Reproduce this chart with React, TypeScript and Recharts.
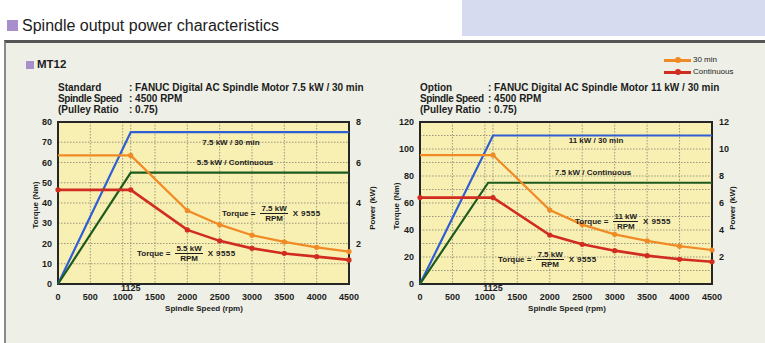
import type { CSSProperties, ReactNode } from 'react'
import {
  CartesianGrid,
  Line,
  LineChart,
  ReferenceArea,
  ReferenceLine,
  XAxis,
  YAxis,
} from 'recharts'

// shared x positions (rpm) of the torque curves
const RPM = [0, 1125, 2000, 2500, 3000, 3500, 4000, 4500]
const RPM_TICKS = [0, 500, 1000, 1500, 2000, 2500, 3000, 3500, 4000, 4500]
const RPM_GRID = [500, 1000, 1125, 1500, 2000, 2500, 3000, 3500, 4000]

// Standard motor (7.5 kW / 30 min)
const STD_TORQUE_30MIN = [63.5, 63.5, 36.3, 29.3, 24.1, 20.8, 18.1, 16]
const STD_TORQUE_CONT = [46.5, 46.5, 26.7, 21.3, 17.6, 15.1, 13.5, 11.9]
const STD_POWER_RPM_30MIN = [0, 1125, 4500]
const STD_POWER_30MIN = [0, 7.5, 7.5]
const STD_POWER_RPM_CONT = [0, 1125, 4500]
const STD_POWER_CONT = [0, 5.5, 5.5]
const STD_TORQUE_TICKS = [0, 10, 20, 30, 40, 50, 60, 70, 80]
const STD_TORQUE_GRID = [10, 20, 30, 40, 50, 60, 70]
const STD_POWER_TICKS = [2, 4, 6, 8]

// Option motor (11 kW / 30 min)
const OPT_TORQUE_30MIN = [95.5, 95.5, 54.8, 44, 36.8, 32, 28, 25.2]
const OPT_TORQUE_CONT = [64, 64, 36.3, 29.4, 24.7, 21, 18.3, 16.5]
const OPT_POWER_RPM_30MIN = [0, 1125, 4500]
const OPT_POWER_30MIN = [0, 11, 11]
const OPT_POWER_RPM_CONT = [0, 1050, 4500]
const OPT_POWER_CONT = [0, 7.5, 7.5]
const OPT_TORQUE_TICKS = [0, 20, 40, 60, 80, 100, 120]
const OPT_TORQUE_GRID = [10, 20, 30, 40, 50, 60, 70, 80, 90, 100, 110]
const OPT_POWER_TICKS = [2, 4, 6, 8, 10, 12]

const ORANGE = '#f08a26'
const RED = '#d02c20'
const BLUE = '#2f5fd2'
const GREEN = '#1d5a1e'
const PURPLE = '#a88fcb'
const INK = '#1c1c1c'
const GRID = '#9c977e'

const SANS = '"Liberation Sans", Arial, sans-serif'
const TICK = {
  fontSize: 9,
  fill: INK,
  fontFamily: '"Liberation Sans Narrow", "Liberation Sans", sans-serif',
  fontWeight: 700,
}

const zip = (xs: number[], ys: number[]) => xs.map((rpm, i) => ({ rpm, v: ys[i] }))

function abs(left: number, top: number, extra: CSSProperties = {}): CSSProperties {
  return { position: 'absolute', left, top, ...extra }
}

// dot renderer; skipFirst hides the marker at 0 rpm (orange curve)
function dots(color: string, skipFirst: boolean) {
  return (p: any) =>
    skipFirst && p.index === 0 ? (
      <g key={`d${p.index}`} />
    ) : (
      <circle key={`d${p.index}`} cx={p.cx} cy={p.cy} r={2.6} fill={color} />
    )
}

function Txt({
  x,
  y,
  children,
  size = 8,
  weight = 700,
  center = false,
  spacing,
}: {
  x: number
  y: number
  children: ReactNode
  size?: number
  weight?: number
  center?: boolean
  spacing?: number
}) {
  return (
    <div
      style={abs(x, y - size * 0.6, {
        fontSize: size,
        fontWeight: weight,
        fontFamily: SANS,
        color: INK,
        lineHeight: `${size * 1.2}px`,
        whiteSpace: 'nowrap',
        letterSpacing: spacing,
        transform: center ? 'translateX(-50%)' : undefined,
      })}
    >
      {children}
    </div>
  )
}

function VText({ x, y, children }: { x: number; y: number; children: ReactNode }) {
  return (
    <div
      style={abs(x, y, {
        fontSize: 8,
        fontWeight: 700,
        fontFamily: SANS,
        color: INK,
        whiteSpace: 'nowrap',
        lineHeight: '10px',
        transform: 'translate(-50%, -50%) rotate(-90deg)',
      })}
    >
      {children}
    </div>
  )
}

function Formula({ x, y, kw }: { x: number; y: number; kw: string }) {
  return (
    <div
      style={abs(x, y - 10, {
        height: 20,
        display: 'flex',
        alignItems: 'center',
        gap: 5,
        fontSize: 8,
        fontWeight: 700,
        fontFamily: SANS,
        color: INK,
        whiteSpace: 'nowrap',
      })}
    >
      <span>Torque =</span>
      <span style={{ display: 'inline-flex', flexDirection: 'column', alignItems: 'center', lineHeight: '9px' }}>
        <span style={{ borderBottom: `1px solid ${INK}`, padding: '0 1px' }}>{kw}</span>
        <span>RPM</span>
      </span>
      <span style={{ letterSpacing: 0.4 }}>X 9555</span>
    </div>
  )
}

function PowerChart({
  left,
  width,
  axisLeft,
  axisRight,
  tMax,
  pMax,
  tTicks,
  tGrid,
  pTicks,
  torque30,
  torqueCont,
  power30,
  powerCont,
}: {
  left: number
  width: number
  axisLeft: number
  axisRight: number
  tMax: number
  pMax: number
  tTicks: number[]
  tGrid: number[]
  pTicks: number[]
  torque30: number[]
  torqueCont: number[]
  power30: { rpm: number; v: number }[]
  powerCont: { rpm: number; v: number }[]
}) {
  return (
    <div style={abs(left, 110)}>
      <LineChart width={width} height={230} margin={{ top: 12, right: 0, bottom: 0, left: 0 }}>
        <CartesianGrid
          yAxisId="t"
          fill="#f8f0b2"
          fillOpacity={1}
          stroke={GRID}
          strokeWidth={1}
          strokeDasharray="1.5 1.5"
          horizontalValues={tGrid}
          verticalValues={RPM_GRID}
        />
        <XAxis
          dataKey="rpm"
          type="number"
          domain={[0, 4500]}
          ticks={RPM_TICKS}
          interval={0}
          axisLine={false}
          tickLine={false}
          tickSize={0}
          tickMargin={10}
          height={56}
          tick={TICK}
        />
        <YAxis
          yAxisId="t"
          domain={[0, tMax]}
          ticks={tTicks}
          interval={0}
          width={axisLeft}
          axisLine={false}
          tickLine={false}
          tickSize={0}
          tickMargin={6}
          tick={TICK}
        />
        <YAxis
          yAxisId="p"
          orientation="right"
          domain={[0, pMax]}
          ticks={pTicks}
          interval={0}
          width={axisRight}
          axisLine={false}
          tickLine={false}
          tickSize={0}
          tickMargin={7}
          tick={TICK}
        />
        <ReferenceLine
          yAxisId="t"
          x={1125}
          stroke="none"
          label={{ value: '1125', position: 'bottom', offset: 1, style: TICK }}
        />
        <Line
          yAxisId="p"
          data={power30}
          dataKey="v"
          stroke={BLUE}
          strokeWidth={2.2}
          dot={false}
          isAnimationActive={false}
        />
        <Line
          yAxisId="p"
          data={powerCont}
          dataKey="v"
          stroke={GREEN}
          strokeWidth={2.2}
          dot={false}
          isAnimationActive={false}
        />
        <Line
          yAxisId="t"
          data={zip(RPM, torque30)}
          dataKey="v"
          stroke={ORANGE}
          strokeWidth={2.2}
          dot={dots(ORANGE, true)}
          isAnimationActive={false}
        />
        <Line
          yAxisId="t"
          data={zip(RPM, torqueCont)}
          dataKey="v"
          stroke={RED}
          strokeWidth={2.6}
          dot={dots(RED, false)}
          isAnimationActive={false}
        />
        <ReferenceArea
          yAxisId="t"
          x1={0}
          x2={4500}
          y1={0}
          y2={tMax}
          fill="none"
          stroke="#262626"
          strokeWidth={2}
          ifOverflow="visible"
        />
      </LineChart>
    </div>
  )
}

function LegendRow({ y, color, label }: { y: number; color: string; label: string }) {
  return (
    <>
      <div style={abs(664, y - 1, { width: 27, height: 2.5, background: color })} />
      <div style={abs(675, y - 2.5, { width: 6, height: 6, borderRadius: 3, background: color, marginTop: -0.5 })} />
      <Txt x={693} y={y} size={8} weight={400}>
        {label}
      </Txt>
    </>
  )
}

export default function App() {
  return (
    <div
      style={{
        position: 'fixed',
        left: 0,
        top: 0,
        width: 765,
        height: 343,
        background: '#ffffff',
        overflow: 'hidden',
        fontFamily: SANS,
      }}
    >
      <div style={abs(462, 0, { width: 303, height: 36, background: '#d7dbef' })} />
      <div style={abs(7, 20, { width: 11, height: 11, background: PURPLE })} />
      <Txt x={22} y={26} size={16} weight={400}>
        Spindle output power characteristics
      </Txt>

      <div
        style={abs(4, 40, {
          width: 761,
          height: 303,
          background: '#eef0e7',
          borderTop: '3px solid #555',
          borderLeft: '2px solid #8a8a8a',
          boxSizing: 'border-box',
        })}
      />

      <div style={abs(26, 61, { width: 8, height: 8, background: PURPLE })} />
      <Txt x={37} y={65} size={11.5}>
        MT12
      </Txt>

      <LegendRow y={60} color={ORANGE} label="30 min" />
      <LegendRow y={72} color={RED} label="Continuous" />

      <Txt x={58} y={88} size={10}>Standard</Txt>
      <Txt x={129} y={88} size={10}>: FANUC Digital AC Spindle Motor 7.5 kW / 30 min</Txt>
      <Txt x={58} y={99} size={10} spacing={-0.4}>Spindle Speed</Txt>
      <Txt x={129} y={99} size={10}>: 4500 RPM</Txt>
      <Txt x={58} y={110} size={10}>(Pulley Ratio</Txt>
      <Txt x={129} y={110} size={10}>: 0.75)</Txt>

      <Txt x={420} y={88} size={10}>Option</Txt>
      <Txt x={488} y={88} size={10}>: FANUC Digital AC Spindle Motor 11 kW / 30 min</Txt>
      <Txt x={420} y={99} size={10} spacing={-0.4}>Spindle Speed</Txt>
      <Txt x={488} y={99} size={10}>: 4500 RPM</Txt>
      <Txt x={420} y={110} size={10}>(Pulley Ratio</Txt>
      <Txt x={488} y={110} size={10}>: 0.75)</Txt>

      <PowerChart
        left={0}
        width={385}
        axisLeft={58}
        axisRight={36}
        tMax={80}
        pMax={8}
        tTicks={STD_TORQUE_TICKS}
        tGrid={STD_TORQUE_GRID}
        pTicks={STD_POWER_TICKS}
        torque30={STD_TORQUE_30MIN}
        torqueCont={STD_TORQUE_CONT}
        power30={zip(STD_POWER_RPM_30MIN, STD_POWER_30MIN)}
        powerCont={zip(STD_POWER_RPM_CONT, STD_POWER_CONT)}
      />
      <PowerChart
        left={385}
        width={380}
        axisLeft={35}
        axisRight={53}
        tMax={120}
        pMax={12}
        tTicks={OPT_TORQUE_TICKS}
        tGrid={OPT_TORQUE_GRID}
        pTicks={OPT_POWER_TICKS}
        torque30={OPT_TORQUE_30MIN}
        torqueCont={OPT_TORQUE_CONT}
        power30={zip(OPT_POWER_RPM_30MIN, OPT_POWER_30MIN)}
        powerCont={zip(OPT_POWER_RPM_CONT, OPT_POWER_CONT)}
      />

      {/* in-plot annotations */}
      <Txt x={231} y={143} center>7.5 kW / 30 min</Txt>
      <Txt x={235} y={163} center>5.5 kW / Continuous</Txt>
      <Formula x={222} y={213} kw="7.5 kW" />
      <Formula x={137} y={253} kw="5.5 kW" />

      <Txt x={596} y={141} center>11 kW / 30 min</Txt>
      <Txt x={593} y={173} center>7.5 kW / Continuous</Txt>
      <Formula x={575} y={221} kw="11 kW" />
      <Formula x={498} y={259} kw="7.5 kW" />

      {/* axis titles */}
      <Txt x={204} y={309} center>Spindle Speed (rpm)</Txt>
      <Txt x={567} y={309} center>Spindle Speed (rpm)</Txt>
      <VText x={36} y={205}>Torque (Nm)</VText>
      <VText x={373} y={208}>Power (kW)</VText>
      <VText x={397} y={206}>Torque (Nm)</VText>
      <VText x={733} y={208}>Power (kW)</VText>
    </div>
  )
}
